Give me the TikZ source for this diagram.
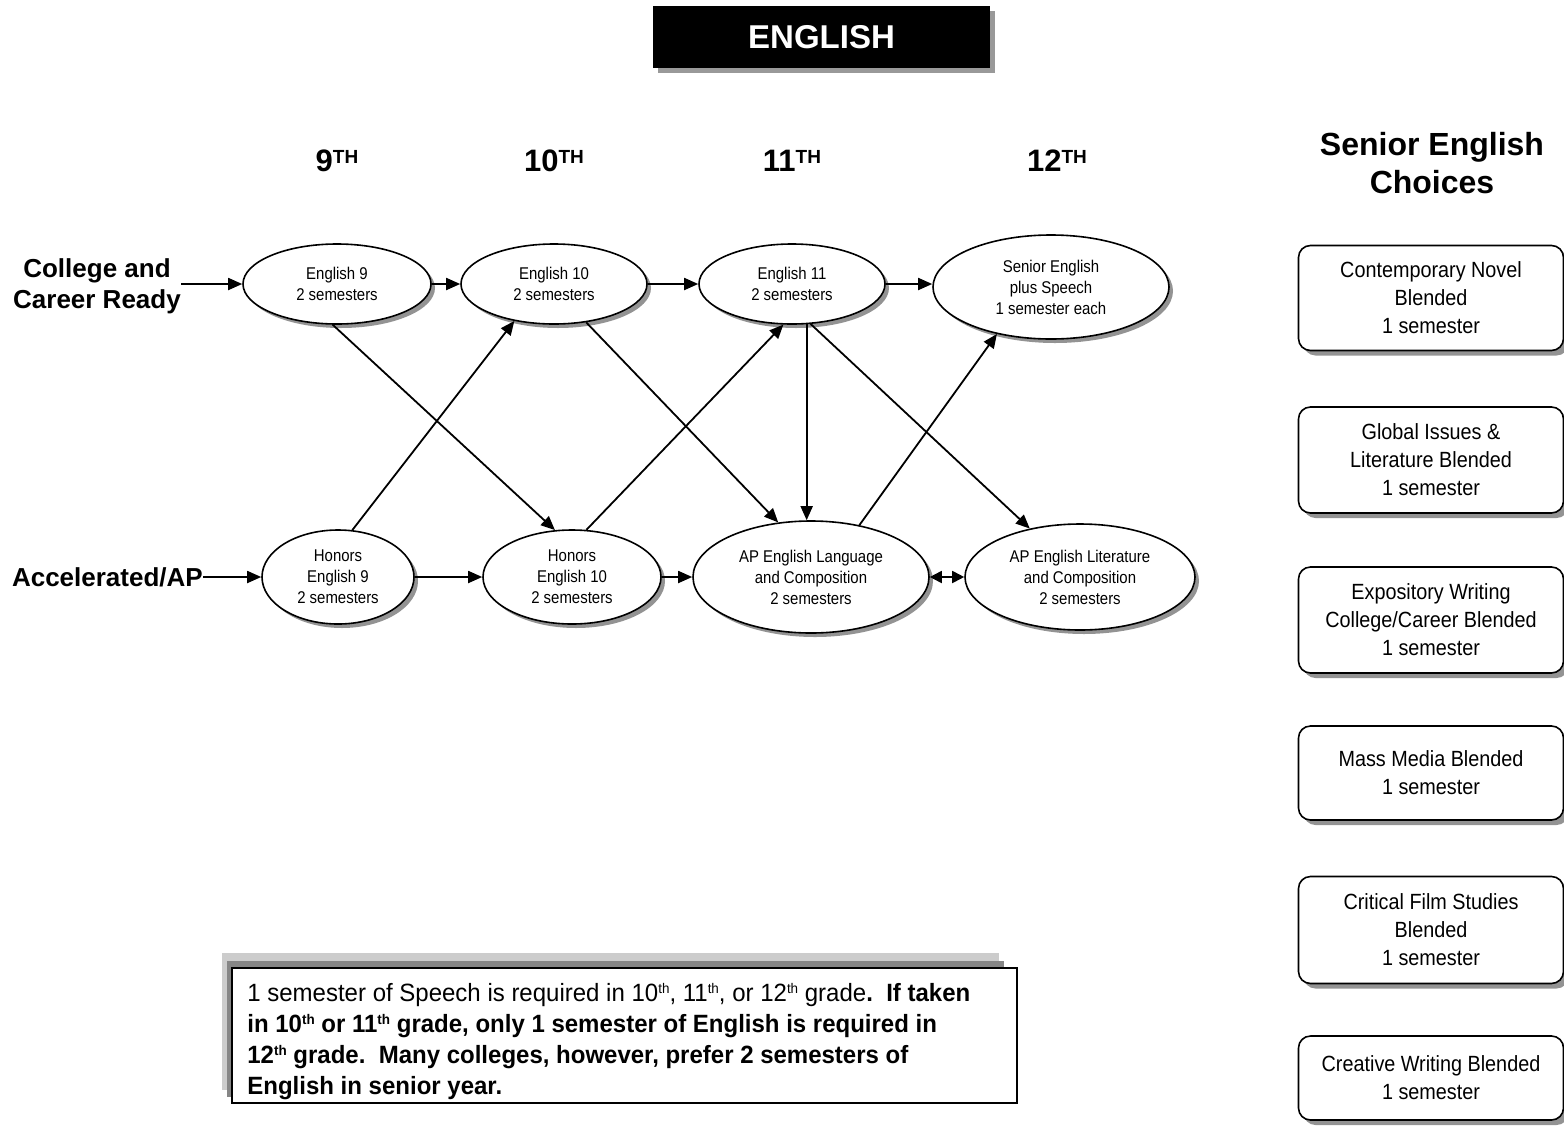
\documentclass[tikz,border=0pt]{standalone}
\usepackage{fontspec}
\setmainfont{Liberation Sans}
\newfontfamily\nf[FakeStretch=0.88]{Liberation Sans}
\newfontfamily\nfb[FakeStretch=0.9]{Liberation Sans}
\newfontfamily\nfc[FakeStretch=0.96]{Liberation Sans}
\usetikzlibrary{shapes.geometric,arrows.meta,shadows}
\newcommand\gradelbl[1]{#1\raisebox{8pt}{\fontsize{19}{19}\selectfont TH}}
\newcommand\sth{\raisebox{8pt}{\fontsize{14}{14}\selectfont th}}
\begin{document}
\begin{tikzpicture}[x=1pt,y=-1pt,
  oval/.style={ellipse,draw,line width=1.6pt,fill=white,inner sep=0pt,align=center,
    font=\nf\fontsize{17}{21}\selectfont,
    general shadow={fill=gray!85,shadow xshift=4pt,shadow yshift=-4pt}},
  choice/.style={rectangle,rounded corners=12pt,draw,line width=1.6pt,fill=white,
    minimum width=265pt,inner sep=0pt,align=center,font=\nfb\fontsize{22}{28}\selectfont,
    general shadow={fill=gray!85,shadow xshift=5pt,shadow yshift=-5pt}},
  arr/.style={-{Triangle[length=14pt,width=12pt]},line width=1.8pt},
  darr/.style={{Triangle[length=12pt,width=12pt]}-{Triangle[length=12pt,width=12pt]},line width=1.8pt},
  grade/.style={font=\bfseries\fontsize{31}{31}\selectfont},
  rowlbl/.style={font=\bfseries\fontsize{26}{31}\selectfont,align=center,inner sep=0pt}
]
\useasboundingbox (0,0) rectangle (1564,1133);

% title
\fill[gray!80] (658,11) rectangle (995,73);
\node[fill=black,minimum width=337pt,minimum height=62pt,inner sep=0pt,text=white,
  font=\bfseries\fontsize{33}{33}\selectfont] (title) at (821.5,37) {ENGLISH};

% grade headers
\node[grade] (g9) at (337,161) {\gradelbl{9}};
\node[grade] (g10) at (554,161) {\gradelbl{10}};
\node[grade] (g11) at (792,161) {\gradelbl{11}};
\node[grade] (g12) at (1057,161) {\gradelbl{12}};

\node[font=\bfseries\fontsize{32}{38}\selectfont,align=center] (sec) at (1432,163) {Senior English\\Choices};

% row labels
\node[rowlbl] (cr) at (97,286) {College and\\Career Ready};
\node[rowlbl,anchor=east] (acc) at (203,577) {Accelerated/AP};

% ovals top row
\node[oval,minimum width=188pt,minimum height=80pt] (e9) at (337,284) {English 9\\2 semesters};
\node[oval,minimum width=186pt,minimum height=80pt] (e10) at (554,284) {English 10\\2 semesters};
\node[oval,minimum width=186pt,minimum height=80pt] (e11) at (792,284) {English 11\\2 semesters};
\node[oval,minimum width=236pt,minimum height=104pt] (sen) at (1051,287) {Senior English\\plus Speech\\1 semester each};

% ovals bottom row
\node[oval,minimum width=152pt,minimum height=94pt] (h9) at (338,577) {Honors\\English 9\\2 semesters};
\node[oval,minimum width=178pt,minimum height=94pt] (h10) at (572,577) {Honors\\English 10\\2 semesters};
\node[oval,minimum width=236pt,minimum height=112pt] (apl) at (811,577) {AP English Language\\and Composition\\2 semesters};
\node[oval,minimum width=230pt,minimum height=106pt] (aplit) at (1080,577) {AP English Literature\\and Composition\\2 semesters};

% arrows
\draw[arr] (e9.west -| cr.east) -- (e9.west);
\draw[arr] (acc.east) -- (h9.west);
\draw[arr] (e9.east) -- (e10.west);
\draw[arr] (e10.east) -- (e11.west);
\draw[arr] (e11.east) -- (e11.east -| sen.west);
\draw[arr] (h9.east) -- (h10.west);
\draw[arr] (h10.east) -- (apl.west);
\draw[darr] (apl.east) -- (aplit.west);

\draw[arr] (e9.-96) -- (h10.110);
\draw[arr] (e10.-50.6) -- (apl.121.5);
\draw[arr] (e11.-70.5) -- (e11.-70.5 |- apl.north);
\draw[arr] (e11.-65.3) -- (aplit.136.4);
\draw[arr] (h9.73) -- (e10.-137);
\draw[arr] (h10.73) -- (e11.-102.7);
\draw[arr] (apl.47.6) -- (sen.-139.5);

% choices
\node[choice,minimum height=105pt] (c1) at (1431,298) {Contemporary Novel\\Blended\\1 semester};
\node[choice,minimum height=106pt] (c2) at (1431,460) {Global Issues \&\\Literature Blended\\1 semester};
\node[choice,minimum height=106pt] (c3) at (1431,620) {Expository Writing\\College/Career Blended\\1 semester};
\node[choice,minimum height=94pt] (c4) at (1431,773) {Mass Media Blended\\1 semester};
\node[choice,minimum height=107pt] (c5) at (1431,930) {Critical Film Studies\\Blended\\1 semester};
\node[choice,minimum height=84pt] (c6) at (1431,1078) {Creative Writing Blended\\1 semester};

% note
\fill[gray!40] (222,953) rectangle (999,1090);
\fill[gray!95] (227,961) rectangle (1004,1097);
\node[draw,line width=1.6pt,fill=white,minimum width=785pt,minimum height=135pt,
  inner sep=0pt] (notebox) at (624.5,1035.5) {};
\node[anchor=west,align=left,inner sep=0pt,font=\nfc\fontsize{25}{31}\selectfont] (note) at ([xshift=16pt,yshift=-6pt]notebox.west)
{1 semester of Speech is required in 10\sth, 11\sth, or 12\sth{} grade\textbf{.\ \ If taken}\\
\textbf{in 10\sth{} or 11\sth{} grade, only 1 semester of English is required in}\\
\textbf{12\sth{} grade.\ \ Many colleges, however, prefer 2 semesters of}\\
\textbf{English in senior year.}};
\end{tikzpicture}
\end{document}
